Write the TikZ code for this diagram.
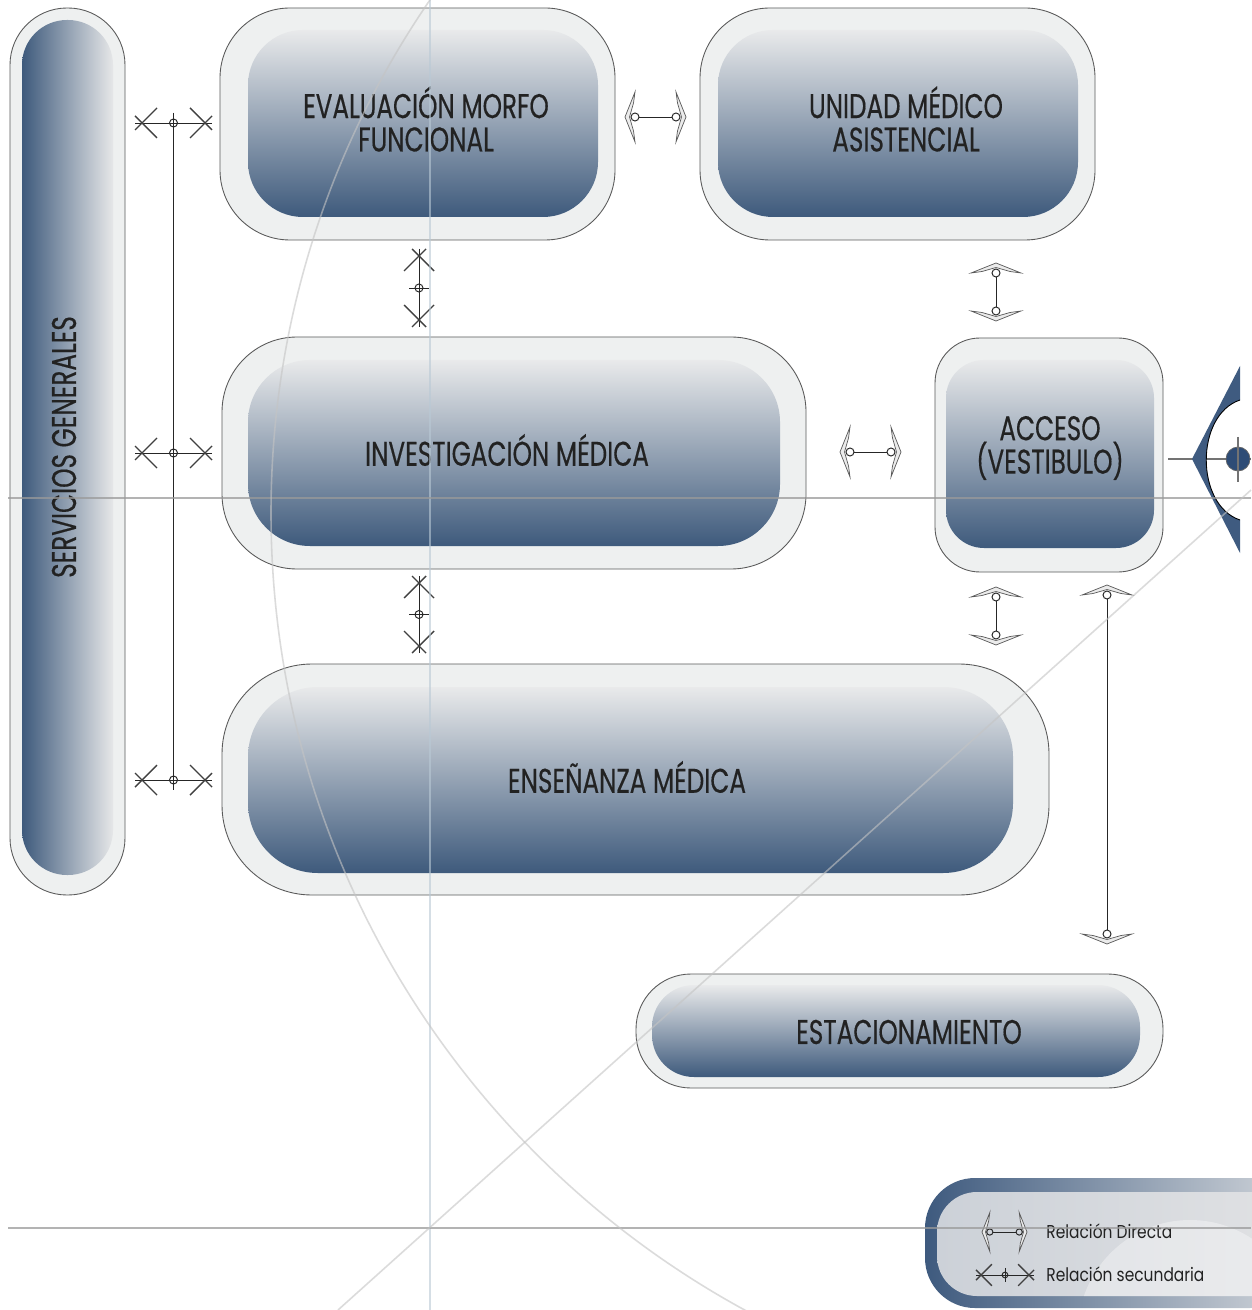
\documentclass[tikz,border=0pt]{standalone}
\usepackage{fontspec}
\setmainfont{Poppins}
\newfontfamily\boxfont[FakeStretch=0.72,FakeBold=0.4]{Poppins}
\newfontfamily\legfont[FakeStretch=0.83]{Poppins}
\usetikzlibrary{calc}
\definecolor{outerfill}{HTML}{EEF0F0}
\definecolor{outerdraw}{HTML}{5A5A5A}
\definecolor{gradtop}{HTML}{E9EAEB}
\definecolor{gradbot}{HTML}{3E5A7C}
\definecolor{servright}{HTML}{E6E7E8}
\definecolor{textc}{HTML}{222222}
\definecolor{eyec}{HTML}{3F5B80}
\definecolor{eyedot}{HTML}{2E4C76}
\definecolor{legleft}{HTML}{3E5A7E}
\definecolor{legright}{HTML}{D3D7DC}
\definecolor{paneleft}{HTML}{CCD1D8}
\definecolor{paneright}{HTML}{E1E2E4}
\definecolor{guidev}{HTML}{B9C9D5}
\definecolor{guideh}{HTML}{9A9A9A}
\definecolor{guided}{HTML}{C4C4C4}
\def\U{0.02cm}
\tikzset{
  xmk/.pic={\draw[xstroke] (-7,-7) -- (15,15); \draw[xstroke] (-7,7) -- (15,-15);},
  midmk/.pic={\draw[conn] (0,-10) -- (0,10); \draw[conn] (0,0) circle[radius=4];},
  dbr/.pic={\filldraw[brk] (10,25) -- (0,0) -- (10,-25) -- (8.5,-14) -- (4.5,0) -- (8.5,14) -- cycle;
            \draw[conn] (10,0) circle[radius=4];}
}
\newcommand{\secrel}[4][1]{%
  \draw[conn] (#2) -- (#3);
  \pic[rotate=#4, scale=#1] at ($(#2)!#1*7*0.02cm!(#3)$) {xmk};
  \pic[rotate=#4+180, scale=#1] at ($(#3)!#1*7*0.02cm!(#2)$) {xmk};
  \pic[rotate=#4, scale=#1] at ($(#2)!0.5!(#3)$) {midmk};
}
\newcommand{\dirrel}[4][1]{%
  \draw[conn] ($(#2)!#1*14*0.02cm!(#3)$) -- ($(#3)!#1*14*0.02cm!(#2)$);
  \pic[rotate=#4, scale=#1] at (#2) {dbr};
  \pic[rotate=#4+180, scale=#1] at (#3) {dbr};
}
\begin{document}
\begin{tikzpicture}[x=0.02cm, y=-0.02cm,
  outerbox/.style={draw=outerdraw, line width=0.5pt, fill=outerfill, inner sep=0pt, outer sep=0pt},
  innerbox/.style={top color=gradtop, bottom color=gradbot, inner sep=0pt, outer sep=0pt},
  boxtext/.style={text=textc, font=\boxfont\fontsize{19.5}{19}\selectfont, align=center, inner sep=0pt},
  legtext/.style={text=textc, font=\legfont\fontsize{10.6}{12}\selectfont, inner sep=0pt},
  conn/.style={line width=0.55pt, draw=black!85},
  xstroke/.style={line width=0.8pt, draw=black!75},
  brk/.style={line width=0.4pt, draw=black!65, fill=black!8},
  guidelineV/.style={draw=guidev, line width=1.1pt, opacity=0.6},
  guidelineH/.style={draw=guideh, line width=1.1pt, opacity=0.75},
  guidelineD/.style={draw=guided, line width=0.9pt, opacity=0.6}
]
\useasboundingbox (0,0) rectangle (1251,1310);
\fill[white] (0,0) rectangle (1251,1310);

% ---- boxes ----
\node[outerbox, minimum width=115*\U, minimum height=887*\U, rounded corners=57*\U] (serv) at (67.5,451.5) {};
\node[inner sep=0pt, outer sep=0pt, left color=gradbot, right color=servright, minimum width=91*\U, minimum height=855*\U, rounded corners=45*\U] (servin) at (67.5,447.5) {};
\node[boxtext, rotate=90] (servt) at (64,447) {SERVICIOS GENERALES};

\node[outerbox, minimum width=395*\U, minimum height=232*\U, rounded corners=70*\U] (eval) at (417.5,124) {};
\node[innerbox, minimum width=350*\U, minimum height=187*\U, rounded corners=55*\U] (evalin) at (423,123.5) {};
\node[boxtext] (evalt) at (426,119) {EVALUACIÓN MORFO\\FUNCIONAL};

\node[outerbox, minimum width=395*\U, minimum height=232*\U, rounded corners=70*\U] (unid) at (897.5,124) {};
\node[innerbox, minimum width=360*\U, minimum height=187*\U, rounded corners=55*\U] (unidin) at (898,123.5) {};
\node[boxtext] (unidt) at (906,119) {UNIDAD MÉDICO\\ASISTENCIAL};

\node[outerbox, minimum width=584*\U, minimum height=232*\U, rounded corners=75*\U] (inv) at (514,453) {};
\node[innerbox, minimum width=532*\U, minimum height=186*\U, rounded corners=62*\U] (invin) at (514,453) {};
\node[boxtext] (invt) at (507,450) {INVESTIGACIÓN MÉDICA};

\node[outerbox, minimum width=228*\U, minimum height=234*\U, rounded corners=45*\U] (acc) at (1049,455) {};
\node[innerbox, minimum width=208*\U, minimum height=188*\U, rounded corners=38*\U] (accin) at (1050,454) {};
\node[boxtext] (acct) at (1050,448) {ACCESO\\(VESTIBULO)};

\node[outerbox, minimum width=827*\U, minimum height=231*\U, rounded corners=90*\U] (ens) at (635.5,779.5) {};
\node[innerbox, minimum width=765*\U, minimum height=186*\U, rounded corners=70*\U] (ensin) at (630.5,780) {};
\node[boxtext] (enst) at (627,777) {ENSEÑANZA MÉDICA};

\node[outerbox, minimum width=527*\U, minimum height=114*\U, rounded corners=55*\U] (est) at (899.5,1031) {};
\node[innerbox, minimum width=488*\U, minimum height=92*\U, rounded corners=42*\U] (estin) at (896,1031) {};
\node[boxtext] (estt) at (909,1032) {ESTACIONAMIENTO};

% ---- legend ----
\node[inner sep=0pt, outer sep=0pt, left color=legleft, right color=legright, minimum width=375*\U, minimum height=130*\U, rounded corners=50*\U] (leg) at (1112.5,1243) {};
\node[inner sep=0pt, outer sep=0pt, left color=paneleft, right color=paneright, minimum width=363*\U, minimum height=104*\U, rounded corners=40*\U] (legin) at (1118.5,1244) {};
\begin{scope}
  \clip[rounded corners=40*\U] (937,1192) rectangle (1300,1296);
  \fill[white, opacity=0.35] (1190,1332) circle[radius=112];
\end{scope}
\node[legtext, anchor=west] (lt1) at (1046,1231) {Relación Directa};
\node[legtext, anchor=west] (lt2) at (1046,1274) {Relación secundaria};
\coordinate (l1a) at (982,1232); \coordinate (l1b) at (1027,1232);
\coordinate (l2a) at (976,1275); \coordinate (l2b) at (1034,1275);
\dirrel[0.78]{l1a}{l1b}{0}
\secrel[0.72]{l2a}{l2b}{0}

% ---- secondary relations ----
\coordinate (sv1) at (173,113); \coordinate (sv2) at (173,790);
\draw[conn] (sv1) -- (sv2);
\coordinate (s1a) at (135,123); \coordinate (s1b) at (212,123);
\coordinate (s2a) at (135,453); \coordinate (s2b) at (212,453);
\coordinate (s3a) at (135,780); \coordinate (s3b) at (212,780);
\coordinate (s4a) at (419,249); \coordinate (s4b) at (419,327);
\coordinate (s5a) at (419,576); \coordinate (s5b) at (419,653);
\secrel{s1a}{s1b}{0}
\secrel{s2a}{s2b}{0}
\secrel{s3a}{s3b}{0}
\secrel{s4a}{s4b}{-90}
\secrel{s5a}{s5b}{-90}

% ---- direct relations ----
\coordinate (d1a) at (625,117); \coordinate (d1b) at (686,117);
\coordinate (d2a) at (840,452); \coordinate (d2b) at (901,452);
\coordinate (d3a) at (996,263); \coordinate (d3b) at (996,321);
\coordinate (d4a) at (996,587); \coordinate (d4b) at (996,645);
\coordinate (d5a) at (1107,585); \coordinate (d5b) at (1107,944);
\dirrel{d1a}{d1b}{0}
\dirrel{d2a}{d2b}{0}
\dirrel{d3a}{d3b}{-90}
\dirrel{d4a}{d4b}{-90}
\dirrel{d5a}{d5b}{-90}

% ---- entrance mark ----
\draw[draw=black!55, line width=0.6pt] (1168,459) -- (1251,459);
\fill[eyec] (1240,366) -- (1192,459) -- (1240,553) -- (1240,520) .. controls (1195,505) and (1195,415) .. (1240,400) -- cycle;
\draw[black, line width=0.5pt] (1240,520) .. controls (1195,505) and (1195,415) .. (1240,400);
\filldraw[fill=eyedot, draw=black!60, line width=0.4pt] (1238,459) circle[radius=12];
\draw[draw=black!55, line width=0.6pt] (1238,437) -- (1238,482);

% ---- guide lines ----
\draw[guidelineV] (430,0) -- (430,1310);
\draw[guidelineH] (8,498) -- (1251,498);
\draw[guidelineH, line width=0.8pt] (8,1228) -- (1251,1228);
\draw[guidelineD] (338,1310) -- (1251,490);
\draw[guidelineD] (1178,513) circle[radius=907];
\end{tikzpicture}
\end{document}
